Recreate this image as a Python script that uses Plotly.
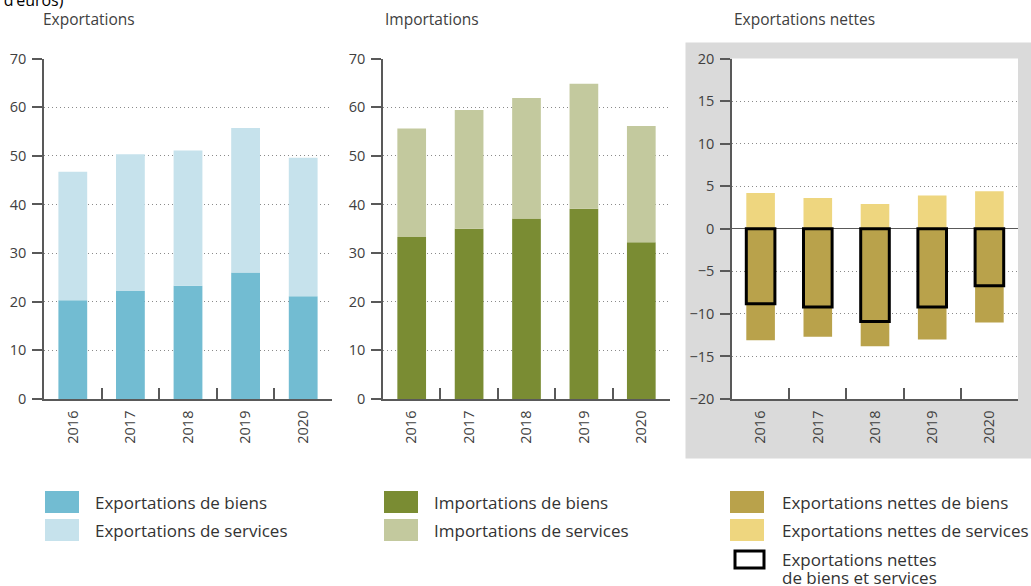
import plotly.graph_objects as go

W, H = 1031, 586

# --- data (milliards d'euros) ---
years = ['2016', '2017', '2018', '2019', '2020']

exp_biens = [20.3, 22.2, 23.3, 26.0, 21.1]
exp_services = [26.4, 28.1, 27.8, 29.7, 28.5]

imp_biens = [33.3, 35.0, 37.1, 39.1, 32.2]
imp_services = [22.3, 24.4, 24.8, 25.7, 23.9]

net_biens = [-13.1, -12.7, -13.8, -13.0, -11.0]
net_services = [4.2, 3.6, 2.9, 3.9, 4.4]
net_total = [-8.8, -9.2, -10.9, -9.2, -6.7]

colors = {
    'exp_biens': '#72bcd2',
    'exp_services': '#c6e2ec',
    'imp_biens': '#7a8c33',
    'imp_services': '#c3c99e',
    'net_biens': '#b9a24b',
    'net_services': '#eed67f',
}

FONT = 'Open Sans'
AXIS_COL = '#595959'
TEXT_COL = '#404040'


def px_x(x):
    return x / W


def px_y(y):
    return 1 - y / H


fig = go.Figure()

# Exportations
fig.add_trace(go.Bar(x=years, y=exp_biens, name='Exportations de biens',
                     marker_color=colors['exp_biens'], xaxis='x', yaxis='y'))
fig.add_trace(go.Bar(x=years, y=exp_services, base=exp_biens, name='Exportations de services',
                     marker_color=colors['exp_services'], xaxis='x', yaxis='y'))

# Importations
fig.add_trace(go.Bar(x=years, y=imp_biens, name='Importations de biens',
                     marker_color=colors['imp_biens'], xaxis='x2', yaxis='y2'))
fig.add_trace(go.Bar(x=years, y=imp_services, base=imp_biens, name='Importations de services',
                     marker_color=colors['imp_services'], xaxis='x2', yaxis='y2'))

# Exportations nettes
fig.add_trace(go.Bar(x=years, y=net_biens, name='Exportations nettes de biens',
                     marker_color=colors['net_biens'], xaxis='x3', yaxis='y3'))
fig.add_trace(go.Bar(x=years, y=net_services, name='Exportations nettes de services',
                     marker_color=colors['net_services'], xaxis='x3', yaxis='y3'))
fig.add_trace(go.Bar(x=years, y=net_total, name='Exportations nettes de biens et services',
                     marker=dict(color='rgba(0,0,0,0)', line=dict(color='black', width=3)),
                     xaxis='x3', yaxis='y3'))

fig.update_traces(marker_line_width=0, selector=dict(type='bar'))
fig.update_traces(marker_line_width=3, selector=dict(name='Exportations nettes de biens et services'))

xstyle = dict(
    type='category', range=[-0.5, 4.5], showline=True, linecolor=AXIS_COL, linewidth=1.5,
    ticks='inside', tickson='boundaries', ticklen=11, tickwidth=1.5, tickcolor=AXIS_COL,
    tickangle=-90, tickfont=dict(size=14.5, color=TEXT_COL), showgrid=False, fixedrange=True,
    automargin=False, ticklabelstandoff=4,
)
ystyle = dict(
    showline=True, linecolor=AXIS_COL, linewidth=1.5, ticks='outside', ticklen=10,
    tickwidth=1.5, tickcolor=AXIS_COL, tickfont=dict(size=14.5, color=TEXT_COL),
    showgrid=True, gridcolor='#8a8a8a', griddash='1px,3px', gridwidth=1, fixedrange=True,
    automargin=False, ticklabelstandoff=3,
)

ydom = [px_y(399), px_y(58.5)]

fig.update_layout(
    xaxis=dict(domain=[px_x(44), px_x(332)], anchor='y', **xstyle),
    xaxis2=dict(domain=[px_x(383), px_x(670)], anchor='y2', **xstyle),
    xaxis3=dict(domain=[px_x(732), px_x(1018)], anchor='y3', **xstyle),
    yaxis=dict(domain=ydom, anchor='x', range=[0, 70], dtick=10, zeroline=False, **ystyle),
    yaxis2=dict(domain=ydom, anchor='x2', range=[0, 70], dtick=10, zeroline=False, **ystyle),
    yaxis3=dict(domain=ydom, anchor='x3', range=[-20, 20], dtick=5, zeroline=True,
                zerolinecolor=AXIS_COL, zerolinewidth=1.2, **ystyle),
    barmode='overlay',
    bargap=0.5,
    showlegend=False,
    width=W, height=H,
    margin=dict(l=0, r=0, t=0, b=0, pad=0, autoexpand=False),
    paper_bgcolor='white',
    plot_bgcolor='white',
    font=dict(family=FONT, color=TEXT_COL),
)

# grey frame behind the net exports panel
fig.add_shape(type='rect', xref='paper', yref='paper',
              x0=px_x(685.5), x1=px_x(1040), y0=px_y(458.5), y1=px_y(42.5),
              fillcolor='#dadada', line_width=0, layer='below')
fig.add_shape(type='rect', xref='x3 domain', yref='y3 domain', x0=0, x1=1, y0=0, y1=1,
              fillcolor='white', line_width=0, layer='below')

# panel titles
for label, x in [('Exportations', 41), ('Importations', 383), ('Exportations nettes', 732)]:
    fig.add_annotation(text=label, xref='paper', yref='paper', x=px_x(x), y=px_y(19),
                       xanchor='left', yanchor='middle', showarrow=False,
                       font=dict(size=15.5, color=TEXT_COL))

# cropped unit line at the top
fig.add_annotation(text='(en milliards d’euros)', xref='paper', yref='paper',
                   x=px_x(66), y=px_y(0.5), xanchor='right', yanchor='middle', showarrow=False,
                   font=dict(size=16, color='black'))

# legend drawn as swatches + labels
legend_cols = [
    (45, 93, [('Exportations de biens', colors['exp_biens']),
              ('Exportations de services', colors['exp_services'])]),
    (384, 432, [('Importations de biens', colors['imp_biens']),
                ('Importations de services', colors['imp_services'])]),
    (730, 780, [('Exportations nettes de biens', colors['net_biens']),
                ('Exportations nettes de services', colors['net_services'])]),
]
for sx, tx, items in legend_cols:
    for i, (label, col) in enumerate(items):
        yc = 502 + i * 28
        fig.add_shape(type='rect', xref='paper', yref='paper',
                      x0=px_x(sx), x1=px_x(sx + 34), y0=px_y(yc + 11), y1=px_y(yc - 11),
                      fillcolor=col, line_width=0)
        fig.add_annotation(text=label, xref='paper', yref='paper', x=px_x(tx), y=px_y(yc),
                           xanchor='left', yanchor='middle', showarrow=False,
                           font=dict(size=17, color='#333333'))

fig.add_shape(type='rect', xref='paper', yref='paper',
              x0=px_x(735), x1=px_x(764), y0=px_y(568), y1=px_y(551),
              fillcolor='white', line=dict(color='black', width=3))
for line, yc in [('Exportations nettes', 559), ('de biens et services', 577)]:
    fig.add_annotation(text=line, xref='paper', yref='paper', x=px_x(780), y=px_y(yc),
                       xanchor='left', yanchor='middle', showarrow=False,
                       font=dict(size=17, color='#333333'))

page_fix = (
    "document.body.style.margin='0';document.body.style.overflow='hidden';"
    "var gd=document.getElementById('{plot_id}');"
    "gd.style.position='absolute';gd.style.left='0px';gd.style.top='0px';"
)
fig.write_html("out.html", config={'displayModeBar': False}, post_script=page_fix)
